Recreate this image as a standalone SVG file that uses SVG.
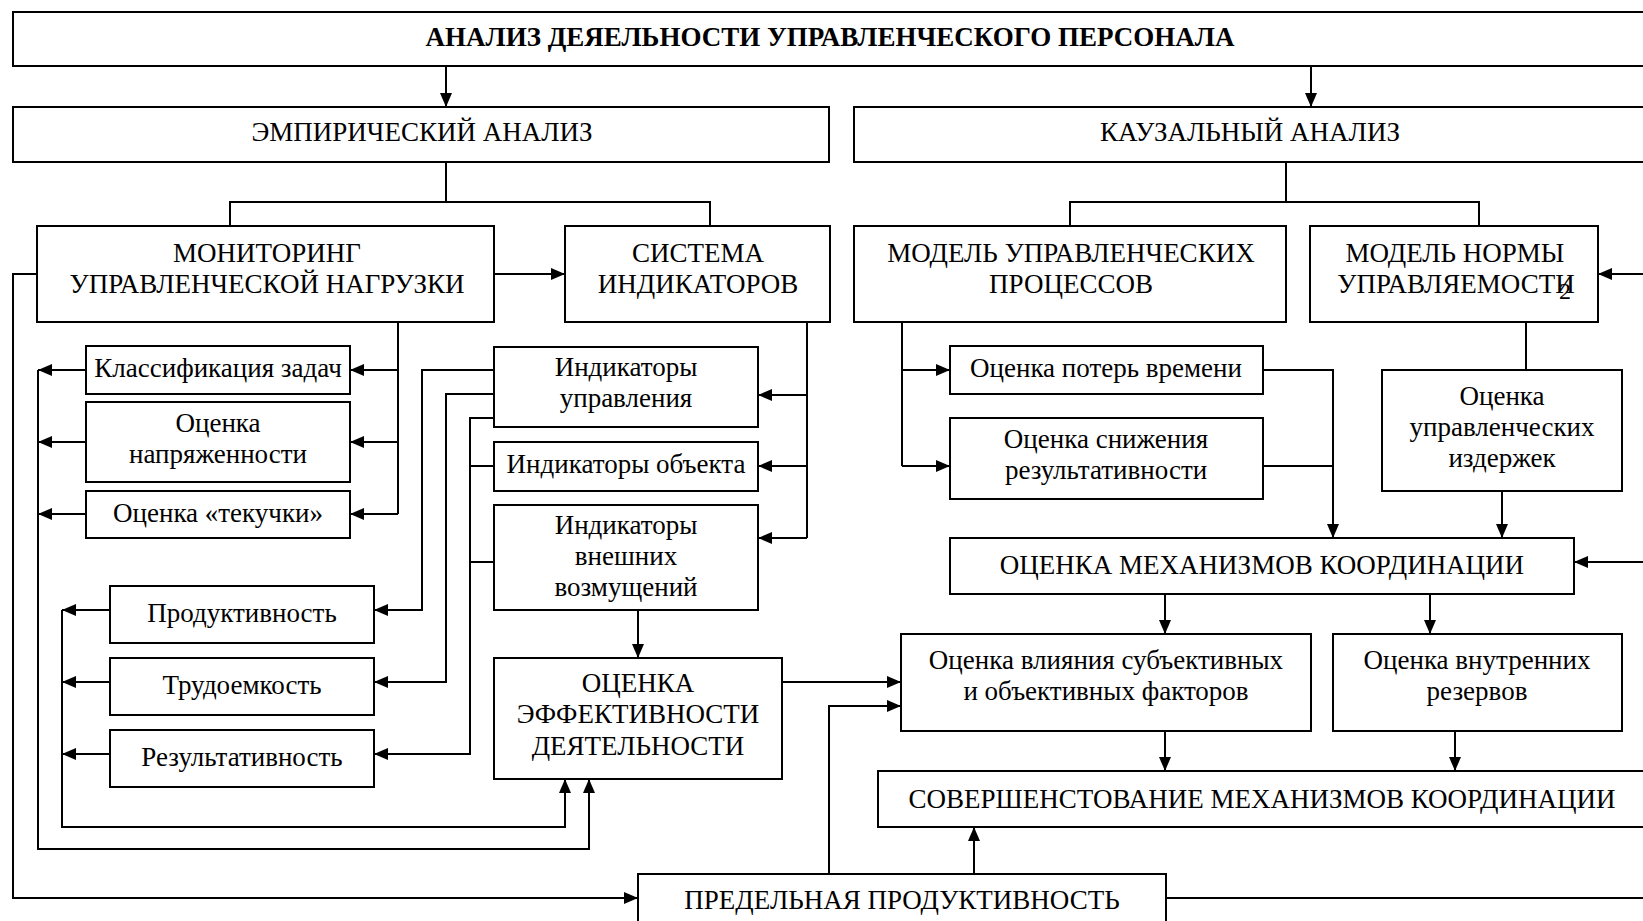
<svg xmlns="http://www.w3.org/2000/svg" width="1643" height="921" viewBox="0 0 1643 921">
<defs>
<marker id="ah" viewBox="0 0 14 12" refX="14" refY="6" markerWidth="14" markerHeight="12" markerUnits="userSpaceOnUse" orient="auto">
<path d="M0,0 L14,6 L0,12 Z" fill="#000"/>
</marker>
</defs>
<style>
rect{fill:#fff;stroke:#000;stroke-width:2}
text{font-family:"Liberation Serif","Times New Roman",serif;font-size:27px;fill:#000;text-anchor:middle}
.b{font-weight:bold}
#connectors path{fill:none;stroke:#000;stroke-width:2}
.a{marker-end:url(#ah)}
</style>
<rect x="0" y="0" width="1643" height="921" style="fill:#fff;stroke:none"/>
<g id="connectors">
<path class="a" d="M446,66 V107"/>
<path class="a" d="M1311,66 V107"/>
<path d="M446,162 V202 M230,226 V202 H710 V226"/>
<path d="M1286,162 V202 M1070,226 V202 H1479 V226"/>
<path class="a" d="M494,274 H565"/>
<path class="a" d="M1643,274 H1598"/>
<path d="M398,322 V514"/>
<path class="a" d="M398,370 H350"/>
<path class="a" d="M398,442 H350"/>
<path class="a" d="M398,514 H350"/>
<path class="a" d="M86,370 H38"/>
<path class="a" d="M86,442 H38"/>
<path class="a" d="M86,514 H38"/>
<path class="a" d="M38,370 V849 H589 V779"/>
<path class="a" d="M37,274 H13 V898 H638"/>
<path d="M807,322 V538"/>
<path class="a" d="M807,395 H758"/>
<path class="a" d="M807,466 H758"/>
<path class="a" d="M807,538 H758"/>
<path class="a" d="M494,370 H422 V610 H374"/>
<path class="a" d="M494,394 H446 V682 H374"/>
<path class="a" d="M494,418 H470 V754 H374"/>
<path d="M494,466 H470 M494,562 H470"/>
<path class="a" d="M110,610 H62"/>
<path class="a" d="M110,682 H62"/>
<path class="a" d="M110,754 H62"/>
<path class="a" d="M62,610 V827 H565 V779"/>
<path class="a" d="M638,610 V658"/>
<path class="a" d="M782,682 H901"/>
<path class="a" d="M829,874 V706 H901"/>
<path class="a" d="M974,874 V827"/>
<path d="M1166,898 H1643"/>
<path d="M902,322 V466"/>
<path class="a" d="M902,370 H950"/>
<path class="a" d="M902,466 H950"/>
<path class="a" d="M1263,370 H1333 V538"/>
<path d="M1263,466 H1333"/>
<path d="M1526,322 V370"/>
<path class="a" d="M1502,491 V538"/>
<path class="a" d="M1643,562 H1574"/>
<path class="a" d="M1165,594 V634"/>
<path class="a" d="M1430,594 V634"/>
<path class="a" d="M1165,731 V771"/>
<path class="a" d="M1455,731 V771"/>
</g>
<g id="title"><rect x="13" y="12" width="1660" height="54"/><text class="b" x="830" y="46">АНАЛИЗ ДЕЯЕЛЬНОСТИ УПРАВЛЕНЧЕСКОГО ПЕРСОНАЛА</text></g>
<g id="empirical"><rect x="13" y="107" width="816" height="55"/><text x="422" y="141">ЭМПИРИЧЕСКИЙ АНАЛИЗ</text></g>
<g id="causal"><rect x="854" y="107" width="820" height="55"/><text x="1250" y="141">КАУЗАЛЬНЫЙ АНАЛИЗ</text></g>
<g id="monitoring"><rect x="37" y="226" width="457" height="96"/><text x="267" y="262">МОНИТОРИНГ</text><text x="267" y="293">УПРАВЛЕНЧЕСКОЙ НАГРУЗКИ</text></g>
<g id="indicators"><rect x="565" y="226" width="265" height="96"/><text x="698" y="262">СИСТЕМА</text><text x="698" y="293">ИНДИКАТОРОВ</text></g>
<g id="model-processes"><rect x="854" y="226" width="432" height="96"/><text x="1071" y="262">МОДЕЛЬ УПРАВЛЕНЧЕСКИХ</text><text x="1071" y="293">ПРОЦЕССОВ</text></g>
<g id="model-norm"><rect x="1310" y="226" width="288" height="96"/><text x="1455" y="262">МОДЕЛЬ НОРМЫ</text><text x="1456" y="293">УПРАВЛЯЕМОСТИ</text><text x="1565" y="299" style="font-size:24px">2</text></g>
<g id="classification"><rect x="86" y="346" width="264" height="48"/><text x="218" y="377">Классификация задач</text></g>
<g id="tension"><rect x="86" y="402" width="264" height="80"/><text x="218" y="432">Оценка</text><text x="218" y="463">напряженности</text></g>
<g id="turnover"><rect x="86" y="491" width="264" height="47"/><text x="218" y="522">Оценка «текучки»</text></g>
<g id="ind-management"><rect x="494" y="347" width="264" height="80"/><text x="626" y="376">Индикаторы</text><text x="626" y="407">управления</text></g>
<g id="ind-object"><rect x="494" y="442" width="264" height="49"/><text x="626" y="473">Индикаторы объекта</text></g>
<g id="ind-external"><rect x="494" y="505" width="264" height="105"/><text x="626" y="534">Индикаторы</text><text x="626" y="565">внешних</text><text x="626" y="596">возмущений</text></g>
<g id="productivity"><rect x="110" y="586" width="264" height="57"/><text x="242" y="622">Продуктивность</text></g>
<g id="labor"><rect x="110" y="658" width="264" height="57"/><text x="242" y="694">Трудоемкость</text></g>
<g id="resultativity"><rect x="110" y="730" width="264" height="57"/><text x="242" y="766">Результативность</text></g>
<g id="efficiency"><rect x="494" y="658" width="288" height="121"/><text x="638" y="692">ОЦЕНКА</text><text x="638" y="723">ЭФФЕКТИВНОСТИ</text><text x="638" y="755">ДЕЯТЕЛЬНОСТИ</text></g>
<g id="time-loss"><rect x="950" y="346" width="313" height="48"/><text x="1106" y="377">Оценка потерь времени</text></g>
<g id="result-decline"><rect x="950" y="418" width="313" height="81"/><text x="1106" y="448">Оценка снижения</text><text x="1106" y="479">результативности</text></g>
<g id="costs"><rect x="1382" y="370" width="240" height="121"/><text x="1502" y="405">Оценка</text><text x="1502" y="436">управленческих</text><text x="1502" y="467">издержек</text></g>
<g id="coordination"><rect x="950" y="538" width="624" height="56"/><text x="1262" y="574">ОЦЕНКА МЕХАНИЗМОВ КООРДИНАЦИИ</text></g>
<g id="factors"><rect x="901" y="634" width="410" height="97"/><text x="1106" y="669">Оценка влияния субъективных</text><text x="1106" y="700">и объективных факторов</text></g>
<g id="reserves"><rect x="1333" y="634" width="289" height="97"/><text x="1477" y="669">Оценка внутренних</text><text x="1477" y="700">резервов</text></g>
<g id="improvement"><rect x="878" y="771" width="800" height="56"/><text x="1262" y="808">СОВЕРШЕНСТОВАНИЕ МЕХАНИЗМОВ КООРДИНАЦИИ</text></g>
<g id="marginal"><rect x="638" y="874" width="528" height="80"/><text x="902" y="909">ПРЕДЕЛЬНАЯ ПРОДУКТИВНОСТЬ</text></g>
</svg>
